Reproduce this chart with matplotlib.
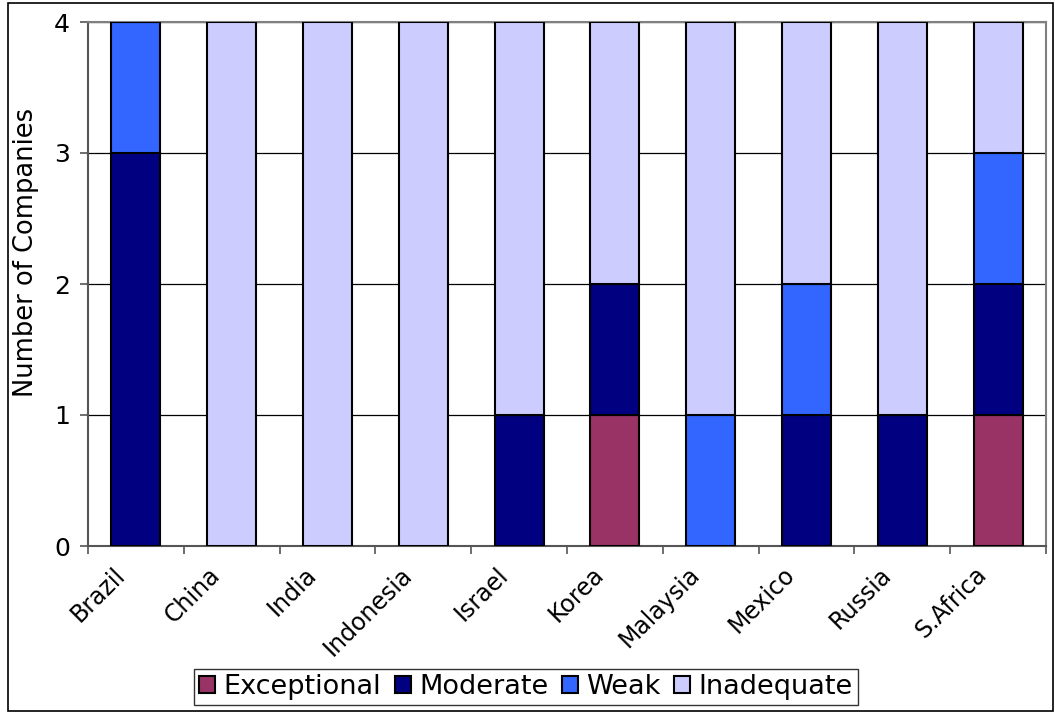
import matplotlib
matplotlib.use("Agg")
import matplotlib.pyplot as plt
from matplotlib.patches import Rectangle
import matplotlib.transforms as mtransforms
import numpy as np

categories = ["Brazil", "China", "India", "Indonesia", "Israel", "Korea",
              "Malaysia", "Mexico", "Russia", "S.Africa"]
exceptional = [0, 0, 0, 0, 0, 1, 0, 0, 0, 1]
moderate    = [3, 0, 0, 0, 1, 1, 0, 1, 1, 1]
weak        = [1, 0, 0, 0, 0, 0, 1, 1, 0, 1]
inadequate  = [0, 4, 4, 4, 3, 2, 3, 2, 3, 1]
series_names = ["Exceptional", "Moderate", "Weak", "Inadequate"]
colors = ["#993366", "#000080", "#3366FF", "#CCCCFF"]
yticks = [0, 1, 2, 3, 4]

plt.rcParams['font.family'] = ['DejaVu Sans']

W, H = 1055, 713
fig = plt.figure(figsize=(W / 100, H / 100), dpi=100)
ax = fig.add_axes([88 / W, 1 - 546 / H, (1046 - 88) / W, (546 - 22) / H])

x = np.arange(len(categories))
bottom = np.zeros(len(categories))
handles = []
for name, vals, c in zip(series_names, [exceptional, moderate, weak, inadequate], colors):
    vals = np.array(vals, dtype=float)
    b = ax.bar(x, vals, bottom=bottom, width=0.51, color=c, edgecolor="black",
               linewidth=1.5, label=name, zorder=3)
    handles.append(b)
    bottom += vals

ax.set_xlim(-0.5, len(categories) - 0.5)
ax.set_ylim(0, 4)
ax.yaxis.grid(True, color="black", linewidth=0.9, zorder=0)
ax.set_axisbelow(True)
ax.tick_params(axis="y", length=6, color="#555555", width=1.2, pad=7)
ax.set_yticks(yticks)
ax.set_yticklabels([str(t) for t in yticks], fontsize=18)

ax.set_xticks(x)
ax.set_xticks(np.arange(-0.5, len(categories) + 0.5, 1), minor=True)
ax.tick_params(axis="x", which="minor", length=6, color="#555555", width=1.2)
ax.tick_params(axis="x", which="major", length=0, pad=18, labelsize=17)
ax.set_xticklabels(categories, rotation=45, ha="right", va="center",
                   rotation_mode="anchor")
offset = mtransforms.ScaledTranslation(-15 / 100, 0, fig.dpi_scale_trans)
for lbl in ax.get_xticklabels():
    lbl.set_transform(lbl.get_transform() + offset)

for s in ax.spines.values():
    s.set_color("#808080")
    s.set_linewidth(1.5)
ax.spines["left"].set_color("#555555")
ax.spines["bottom"].set_color("#555555")

ax.set_ylabel("Number of Companies", fontsize=18.5)
ax.yaxis.set_label_coords((39 - 88) / 958, (546 - 252) / 524)

leg = fig.legend(handles=handles, labels=series_names, loc="center",
                 bbox_to_anchor=(526 / W, 1 - 687 / H), ncol=4, fontsize=19.5,
                 frameon=True, fancybox=False, edgecolor="black",
                 handlelength=0.6, handleheight=0.6, handletextpad=0.3,
                 columnspacing=0.5, borderpad=0.2, borderaxespad=0)
leg.get_frame().set_linewidth(1.0)

fig.patches.append(Rectangle((8 / W, 2 / H), (1053 - 8) / W, (710 - 2) / H,
                             transform=fig.transFigure, fill=False,
                             edgecolor="black", linewidth=1.2))

fig.savefig("out.png", dpi=100)
